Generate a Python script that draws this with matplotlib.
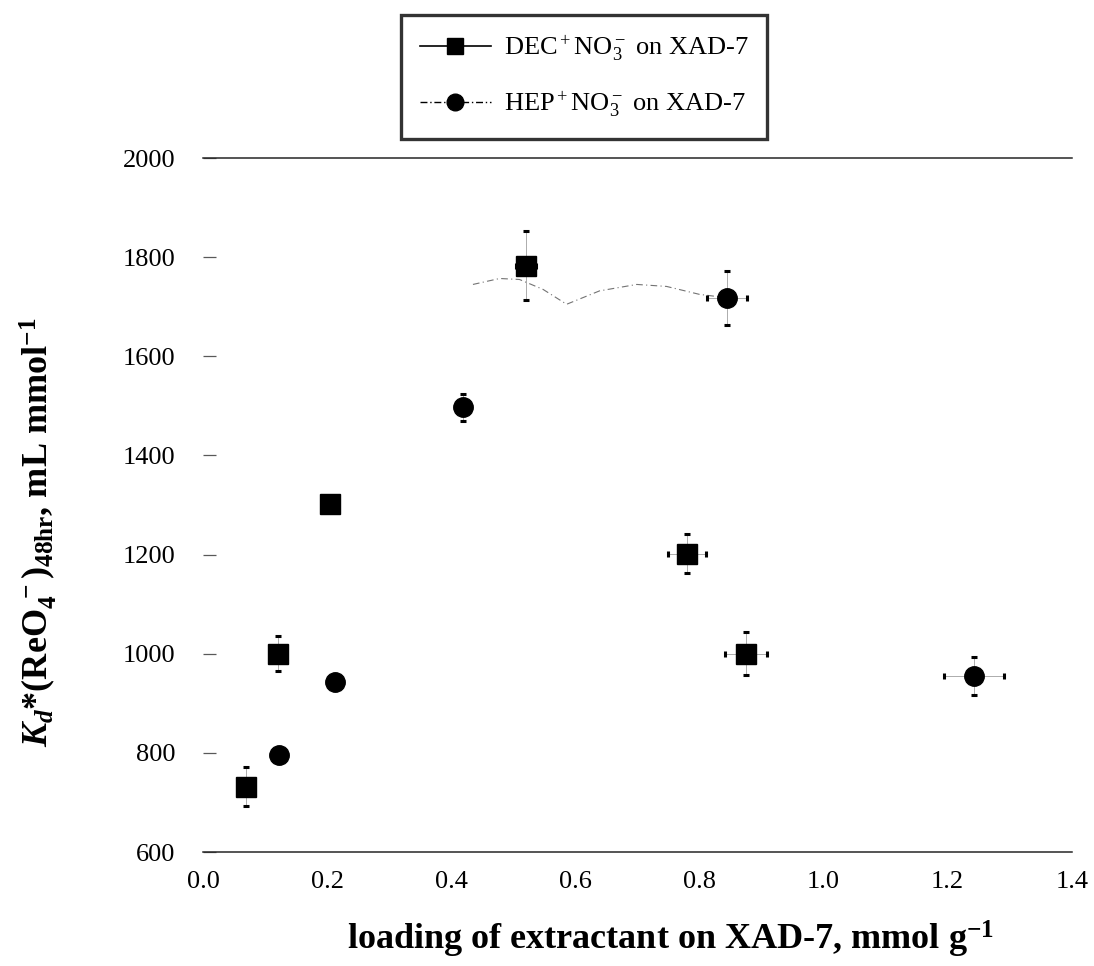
import matplotlib
matplotlib.use("Agg")
import matplotlib.pyplot as plt
from matplotlib.lines import Line2D

plt.rcParams["font.family"] = ["Liberation Serif", "DejaVu Serif"]
plt.rcParams["mathtext.fontset"] = "custom"
plt.rcParams["mathtext.rm"] = "Liberation Serif"
plt.rcParams["mathtext.it"] = "Liberation Serif:italic:bold"
plt.rcParams["mathtext.bf"] = "Liberation Serif:bold"

# DEC+NO3- on XAD-7
dec_x = [0.07, 0.12, 0.205, 0.52, 0.78, 0.875]
dec_y = [732, 1000, 1303, 1783, 1202, 1000]
dec_xerr = [0.0, 0.0, 0.0, 0.016, 0.031, 0.034]
dec_yerr = [40, 35, 0, 70, 39, 43]

# HEP+NO3- on XAD-7
hep_x = [0.122, 0.213, 0.419, 0.845, 1.243]
hep_y = [796, 943, 1497, 1718, 955]
hep_xerr = [0.0, 0.0, 0.0, 0.032, 0.048]
hep_yerr = [0, 0, 27, 55, 39]

# faint remains of the smoothed trend line
trace_x = [0.435, 0.478, 0.51, 0.548, 0.586, 0.639, 0.699, 0.747, 0.80, 0.845]
trace_y = [1745, 1757, 1755, 1735, 1705, 1732, 1745, 1741, 1725, 1718]

x_ticks = [0.0, 0.2, 0.4, 0.6, 0.8, 1.0, 1.2, 1.4]
y_ticks = [600, 800, 1000, 1200, 1400, 1600, 1800, 2000]

fig = plt.figure(figsize=(10.94, 9.66), dpi=100)
ax = fig.add_axes([0.1856, 0.118, 0.794, 0.7184])

ax.plot(trace_x, trace_y, color="0.45", lw=0.8, ls=(0, (6, 3, 1, 3)), zorder=1)

for xs, ys, xe, ye, mk in [(dec_x, dec_y, dec_xerr, dec_yerr, "s"),
                           (hep_x, hep_y, hep_xerr, hep_yerr, "o")]:
    cont = ax.errorbar(xs, ys, xerr=xe, yerr=ye, fmt=mk, ms=14,
                       mfc="black", mec="black", ecolor="black",
                       elinewidth=0.5, capsize=2.5, capthick=2.2, zorder=3)
    for bar in cont[2]:
        bar.set_color("0.55")
        bar.set_linewidth(0.5)

ax.set_xlim(0.0, 1.4)
ax.set_ylim(600, 2000)
ax.set_xticks(x_ticks)
ax.set_xticklabels([f"{v:.1f}" for v in x_ticks])
ax.set_yticks(y_ticks)

for side in ["left", "right"]:
    ax.spines[side].set_visible(False)
ax.spines["top"].set_linewidth(1.1)
ax.spines["top"].set_color("0.15")
ax.spines["bottom"].set_linewidth(1.1)
ax.spines["bottom"].set_color("0.15")

ax.tick_params(axis="y", direction="in", length=9, width=0.9, color="0.35",
               labelsize=19, pad=20)
ax.tick_params(axis="x", length=0, labelsize=19, pad=14)

ax.set_xlabel(r"loading of extractant on XAD-7, mmol g$\mathregular{^{-1}}$",
              fontsize=26, fontweight="bold")
ax.xaxis.set_label_coords((671 - 203) / 869, -0.097)
ax.set_ylabel(r"$K_d$*(ReO$\mathregular{_4^{\ -}}$)$\mathregular{_{48hr}}$, mL mmol$\mathregular{^{-1}}$",
              fontsize=26, fontweight="bold")
ax.yaxis.set_label_coords(-0.166, 0.46)

handles = [
    Line2D([], [], color="black", lw=1.2, marker="s", ms=12, ls="-"),
    Line2D([], [], color="black", lw=1.0, marker="o", ms=12, ls=(0, (5, 2, 1, 2))),
]
labels = [
    r"DEC$\mathregular{^+}$NO$\mathregular{_3^-}$ on XAD-7",
    r"HEP$\mathregular{^+}$NO$\mathregular{_3^-}$ on XAD-7",
]
leg = fig.legend(handles, labels, loc="upper left",
                 bbox_to_anchor=(388 / 1094, 1 - 2 / 966),
                 fontsize=19, frameon=True, fancybox=False,
                 edgecolor="black", labelspacing=1.0, handlelength=2.7,
                 borderpad=0.7, handletextpad=0.5)
leg.get_frame().set_linewidth(2.4)

fig.savefig("out.png", dpi=100)
